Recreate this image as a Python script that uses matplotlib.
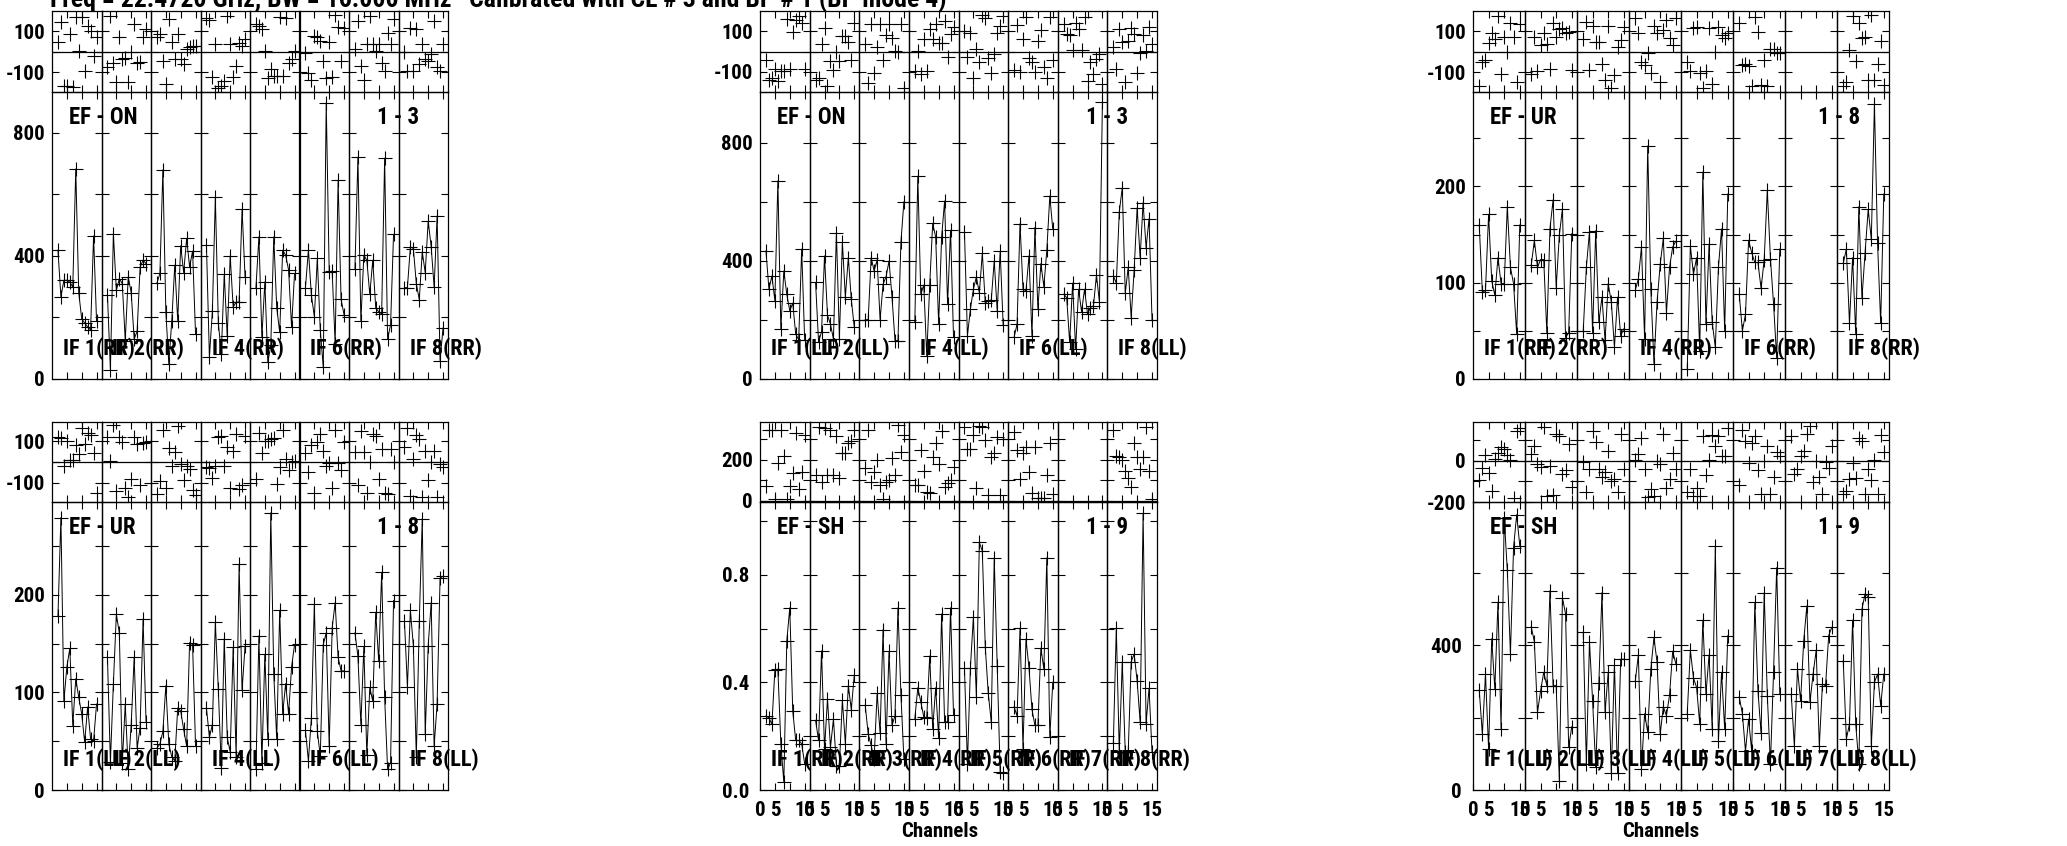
import numpy as np
import matplotlib.pyplot as plt

plt.rcParams['font.family'] = ['Liberation Sans Narrow', 'Roboto Condensed',
                               'IBM Plex Sans Condensed', 'Liberation Sans']
plt.rcParams['font.weight'] = 'bold'

W, H = 2067, 846

channels = list(range(2, 16))

# EF - ON, baseline 1-3, RR
on_rr_amp = [
    [419, 267, 321, 321, 315, 299, 683, 281, 196, 182, 169, 160, 465, 190],
    [274, 29, 473, 288, 326, 310, 125, 332, 281, 130, 155, 364, 386, 375],
    [312, 343, 680, 218, 49, 190, 370, 190, 433, 346, 457, 364, 416, 147],
    [435, 71, 221, 591, 183, 82, 341, 139, 400, 234, 250, 250, 552, 332],
    [297, 462, 136, 316, 54, 109, 462, 232, 152, 419, 403, 354, 169, 343],
    [297, 419, 272, 203, 392, 158, 38, 898, 348, 351, 114, 647, 259, 209],
    [359, 721, 187, 403, 386, 275, 386, 232, 218, 212, 718, 130, 176, 470],
    [297, 297, 430, 424, 310, 258, 413, 346, 514, 430, 299, 530, 60, 166],
]
on_rr_phase = [
    [46, 146, -166, -166, 86, -170, 167, 5, 167, -94, 127, 102, -20, 73],
    [-76, 172, -52, -146, 70, -36, -28, -146, -3, 135, -52, -49, 73, 110],
    [73, 86, -44, -155, 159, 46, -33, 86, -36, -60, 13, 21, 26, 30],
    [164, 156, -122, 37, -177, -166, -141, 176, 37, -122, -68, 41, 30, 60],
    [135, 127, 111, 2, -125, -85, -117, -117, 171, -117, 164, -52, -36, 5],
    [-8, -101, -138, 78, 70, 54, -47, -128, 46, -122, 179, 119, -47, 114],
    [13, 151, -68, -138, 37, 176, 37, 5, 37, -52, -93, 91, 37, 159],
    [-3, -93, 115, -93, 111, -60, 37, -36, -44, -11, 151, -76, -93, 37],
]

# EF - ON, baseline 1-3, LL
on_ll_amp = [
    [434, 304, 349, 265, 671, 169, 366, 287, 231, 257, 152, 133, 440, 133],
    [327, 126, 160, 417, 216, 186, 135, 496, 137, 464, 278, 411, 270, 175],
    [201, 201, 411, 366, 403, 201, 321, 346, 400, 278, 130, 130, 464, 600],
    [194, 687, 287, 318, 79, 318, 527, 481, 186, 481, 603, 254, 504, 141],
    [499, 147, 237, 304, 346, 291, 426, 257, 265, 267, 400, 231, 432, 183],
    [141, 186, 526, 304, 299, 417, 147, 513, 237, 391, 313, 436, 620, 507],
    [287, 276, 124, 325, 101, 304, 228, 304, 220, 242, 248, 352, 261, 938],
    [349, 325, 566, 648, 290, 378, 208, 370, 580, 411, 597, 445, 543, 201],
]
on_ll_phase = [
    [-42, -140, -133, -87, -145, -98, -98, 160, -87, 97, 155, 175, 142, -87],
    [-140, -132, 38, 118, -170, -45, -90, -3, -45, 75, 75, 47, -42, 142],
    [38, -158, 135, -107, 22, 138, -42, 83, 135, 68, 2, -3, 135, -182],
    [-98, 2, -112, 63, -98, 113, 63, 135, 42, 42, 152, -28, 88, 120],
    [102, -25, 93, -132, 13, -53, 180, 163, -32, -108, -12, 93, 125, 175],
    [-92, 130, -103, 63, 172, -32, -50, -100, 52, 108, -75, -133, 172, -40],
    [138, 85, 80, 8, 142, 110, 5, 172, -145, -50, -112, -37, -12, -162],
    [22, -87, 113, 47, -153, 52, 118, 88, -108, -8, 83, 2, 122, 38],
]

# EF - UR, baseline 1-8, RR (IF 7 flagged)
ur_rr_amp = [
    [160, 90, 92, 171, 102, 87, 126, 99, 99, 179, 116, 99, 47, 160],
    [118, 144, 116, 124, 124, 48, 156, 186, 95, 149, 177, 43, 48, 151],
    [50, 116, 153, 48, 154, 59, 85, 40, 99, 80, 33, 85, 45, 52],
    [92, 104, 137, 42, 242, 93, 16, 80, 119, 146, 69, 116, 137, 143],
    [10, 138, 109, 126, 29, 215, 57, 140, 59, 33, 116, 156, 50, 192],
    [88, 50, 67, 144, 131, 121, 121, 94, 124, 196, 125, 78, 22, 135],
    [],
    [120, 135, 58, 126, 47, 179, 84, 131, 176, 145, 286, 141, 58, 192],
]
ur_rr_phase = [
    [-166, -49, -41, 41, 89, 60, 174, -106, 70, -3, 141, 70, -146, 135],
    [-109, 70, -94, 33, 89, 36, -85, 141, 70, 109, 114, 93, 98, -86],
    [60, 146, -86, 125, 49, 49, -60, -135, 125, -174, -114, 24, 57, 120],
    [163, 89, -49, -65, -8, -102, 125, 89, -146, 106, 154, 65, 33, 163],
    [-49, -94, 114, 119, -101, -174, -94, 114, -154, 0, 122, 81, 65, 90],
    [141, -65, -57, -70, -167, 167, 98, -163, -41, -167, 16, 16, -5, -5],
    [],
    [-166, -146, 11, 174, -46, 141, 65, 70, -135, 179, -138, -60, 54, -163],
]

# EF - UR, baseline 1-8, LL
ur_ll_amp = [
    [178, 279, 91, 126, 145, 66, 114, 95, 78, 49, 85, 52, 50, 88],
    [136, 29, 109, 180, 161, 28, 88, 21, 67, 136, 43, 64, 175, 70],
    [43, 47, 60, 107, 47, 34, 30, 84, 81, 62, 45, 151, 149, 45],
    [84, 54, 67, 172, 103, 23, 155, 54, 39, 146, 34, 231, 102, 147],
    [22, 158, 28, 139, 52, 284, 119, 52, 184, 78, 109, 78, 126, 149],
    [61, 30, 74, 191, 60, 35, 149, 161, 45, 166, 192, 136, 122, 122],
    [161, 137, 67, 147, 36, 105, 91, 182, 132, 223, 95, 21, 28, 194],
    [173, 106, 184, 148, 34, 173, 278, 57, 148, 192, 45, 88, 217, 219],
]
ur_ll_phase = [
    [123, 118, -21, 104, 8, 8, 83, 40, 168, 88, 139, 131, 46, -152],
    [120, 3, 179, -141, 120, 99, -125, -173, -85, 120, 88, -114, 91, 99],
    [-157, -93, 158, -128, 67, -18, 51, 174, -8, -88, -21, -34, -138, -162],
    [-24, -29, -77, -18, 120, 126, -18, 72, -128, 56, 136, -133, -114, 126],
    [-85, 142, 46, 104, 104, 110, 115, -109, -24, 158, 14, -37, -2, 3],
    [46, -50, 83, -149, 96, 136, 56, -18, -5, -125, 158, -5, -40, 99],
    [51, -114, 152, 51, -149, -2, 136, 126, -82, 62, -152, -157, 62, -2],
    [72, 168, -168, 14, 131, 110, -173, 56, -90, -2, 56, -173, -8, -24],
]

# EF - SH, baseline 1-9, RR (IF 7 flagged)
sh_rr_amp = [
    [0.275, 0.268, 0.244, 0.446, 0.449, 0.172, 0.029, 0.554, 0.677, 0.293, 0.184, 0.184, 0.172, 0.097],
    [0.259, 0.184, 0.517, 0.151, 0.338, 0.159, 0.263, 0.091, 0.091, 0.334, 0.172, 0.388, 0.299, 0.427],
    [0.315, 0.209, 0.166, 0.116, 0.359, 0.213, 0.596, 0.172, 0.515, 0.240, 0.275, 0.677, 0.353, 0.116],
    [0.265, 0.380, 0.328, 0.272, 0.268, 0.498, 0.228, 0.380, 0.193, 0.654, 0.253, 0.253, 0.677, 0.278],
    [0.452, 0.097, 0.455, 0.643, 0.346, 0.920, 0.888, 0.530, 0.359, 0.253, 0.863, 0.462, 0.066, 0.062],
    [0.309, 0.275, 0.602, 0.153, 0.561, 0.455, 0.300, 0.240, 0.240, 0.527, 0.450, 0.863, 0.197, 0.400],
    [],
    [0.174, 0.602, 0.141, 0.477, 0.141, 0.141, 0.477, 0.505, 0.405, 0.253, 1.028, 0.247, 0.378, 0.141],
]
sh_rr_phase = [
    [72, 344, 344, 11, 184, 344, 220, 11, 72, 134, 331, 56, 143, 323],
    [126, 361, 93, 356, 126, 344, 126, 318, 110, 236, 236, 282, 290, 347],
    [159, 347, 93, 143, 200, 77, 11, 93, 102, 208, 126, 372, 241, 323],
    [77, 77, 249, 148, 44, 39, 216, 282, 180, 339, 69, 89, 102, 167],
    [361, 252, 252, 323, 61, 364, 361, 298, 28, 216, 236, 311, 28, 301],
    [334, 249, 105, 236, 262, 143, 39, 264, 16, 16, 16, 126, 285, 33],
    [],
    [347, 220, 216, 200, 146, 110, 69, 282, 216, 154, 216, 361, 148, 11],
]

# EF - SH, baseline 1-9, LL
sh_ll_amp = [
    [276, 154, 320, 113, 418, 279, 518, 168, 752, 607, 375, 669, 760, 674],
    [451, 409, 214, 274, 325, 288, 550, 288, 288, 26, 531, 486, 118, 175],
    [435, 72, 409, 246, 63, 294, 545, 214, 325, 46, 346, 46, 361, 361],
    [300, 373, 58, 211, 159, 334, 421, 352, 154, 230, 205, 262, 383, 349],
    [211, 386, 309, 283, 182, 469, 265, 373, 168, 674, 136, 325, 168, 426],
    [257, 211, 108, 196, 107, 518, 274, 156, 545, 260, 72, 325, 614, 265],
    [265, 122, 334, 246, 412, 508, 242, 320, 386, 122, 292, 288, 426, 449],
    [357, 141, 182, 469, 182, 72, 499, 542, 533, 122, 297, 320, 233, 320],
]
sh_ll_phase = [
    [-91, -32, 27, -61, -144, 8, 37, 69, 59, 27, 5, -181, 144, 160],
    [32, 75, -16, -27, 165, -171, -24, -168, 133, 123, -64, -43, 85, -128],
    [-5, -149, -40, 144, 91, -40, -80, -56, 48, -96, -88, -152, 133, -37],
    [5, 32, 112, -40, -176, -136, -171, 0, -16, 133, -133, -88, 40, -37],
    [-152, -40, -171, -133, -171, 123, -69, 5, 125, 75, 120, 24, 24, 160],
    [-117, 149, 96, -8, 88, 123, -43, -160, 0, 72, -160, -80, 43, 24],
    [123, -64, -40, 24, 48, 133, 171, -101, 0, -80, -160, -5, -32, 72],
    [-160, -144, -88, -11, -85, 112, 96, -160, -40, -91, 5, -160, 128, 43],
]

title = "Freq = 22.4720 GHz, BW = 16.000 MHz   Calibrated with CL # 3 and BP # 1 (BP mode 4)"

panels = [
    dict(col=0, row=0, amp=on_rr_amp, ph=on_rr_phase, pol='RR', src='EF - ON', bl='1 - 3',
         alim=(0, 933), aticks=[0, 200, 400, 600, 800], alabels=['0', '', '400', '', '800'],
         plim=(-195, 198), pticks=[-100, 0, 100], plabels=['-100', '', '100'], ifs=[1, 2, 4, 6, 8]),
    dict(col=1, row=0, amp=on_ll_amp, ph=on_ll_phase, pol='LL', src='EF - ON', bl='1 - 3',
         alim=(0, 972), aticks=[0, 200, 400, 600, 800], alabels=['0', '', '400', '', '800'],
         plim=(-200, 200), pticks=[-100, 0, 100], plabels=['-100', '', '100'], ifs=[1, 2, 4, 6, 8]),
    dict(col=2, row=0, amp=ur_rr_amp, ph=ur_rr_phase, pol='RR', src='EF - UR', bl='1 - 8',
         alim=(0, 298), aticks=[0, 50, 100, 150, 200, 250], alabels=['0', '', '100', '', '200', ''],
         plim=(-195, 198), pticks=[-100, 0, 100], plabels=['-100', '', '100'], ifs=[1, 2, 4, 6, 8]),
    dict(col=0, row=1, amp=ur_ll_amp, ph=ur_ll_phase, pol='LL', src='EF - UR', bl='1 - 8',
         alim=(0, 295), aticks=[0, 50, 100, 150, 200, 250], alabels=['0', '', '100', '', '200', ''],
         plim=(-195, 195), pticks=[-100, 0, 100], plabels=['-100', '', '100'], ifs=[1, 2, 4, 6, 8]),
    dict(col=1, row=1, amp=sh_rr_amp, ph=sh_rr_phase, pol='RR', src='EF - SH', bl='1 - 9',
         alim=(0, 1.07), aticks=[0, 0.2, 0.4, 0.6, 0.8, 1.0], alabels=['0.0', '', '0.4', '', '0.8', ''],
         plim=(-5, 385), pticks=[0, 100, 200, 300], plabels=['0', '', '200', ''], ifs=[1, 2, 3, 4, 5, 6, 7, 8]),
    dict(col=2, row=1, amp=sh_ll_amp, ph=sh_ll_phase, pol='LL', src='EF - SH', bl='1 - 9',
         alim=(0, 795), aticks=[0, 200, 400, 600], alabels=['0', '', '400', ''],
         plim=(-200, 190), pticks=[-200, -100, 0, 100], plabels=['-200', '', '0', ''], ifs=[1, 2, 3, 4, 5, 6, 7, 8]),
]

col_x = [(52, 448), (760, 1157), (1473, 1889)]
row_y = [((11, 92), (92, 379)), ((422, 502), (502, 790))]


def box(x0, y0, x1, y1):
    return [x0 / W, 1 - y1 / H, (x1 - x0) / W, (y1 - y0) / H]


def style(ax, ylim, yticks):
    ax.set_facecolor('none')
    ax.set_xlim(0, 16.67)
    ax.set_ylim(ylim)
    ax.set_xticks([5, 10, 15])
    ax.set_yticks(yticks)
    ax.tick_params(direction='in', top=True, right=True, length=5, width=0.8,
                   labelbottom=False, labelleft=False, labelsize=15, pad=5)
    for s in ax.spines.values():
        s.set_linewidth(0.9)


fig = plt.figure(figsize=(W / 100, H / 100), dpi=100)

for p in panels:
    x0, x1 = col_x[p['col']]
    (py0, py1), (ay0, ay1) = row_y[p['row']]
    w = (x1 - x0) / 8
    for k in range(8):
        sx0, sx1 = x0 + k * w, x0 + (k + 1) * w
        axp = fig.add_axes(box(sx0, py0, sx1, py1))
        axa = fig.add_axes(box(sx0, ay0, sx1, ay1))
        style(axp, p['plim'], p['pticks'])
        style(axa, p['alim'], p['aticks'])
        axp.axhline(0, color='black', lw=0.9)
        if len(p['amp'][k]) > 0:
            axa.plot(channels, p['amp'][k], color='black', lw=0.7,
                     marker='+', ms=10, mew=0.8)
            axp.plot(channels, p['ph'][k], ls='none', color='black',
                     marker='+', ms=10, mew=0.8)
        if k == 0:
            axp.set_yticklabels(p['plabels'])
            axa.set_yticklabels(p['alabels'])
            axp.tick_params(labelleft=True)
            axa.tick_params(labelleft=True)
        if p['row'] == 1 and p['col'] > 0:
            axa.set_xticks([0, 5, 10, 15])
            axa.set_xticklabels(['0', '5', '', '15'])
            axa.tick_params(labelbottom=True, pad=8)
        if (k + 1) in p['ifs']:
            fig.text((sx0 + 11) / W, 1 - (ay1 - 30) / H, f"IF {k + 1}({p['pol']})",
                     fontsize=16, fontweight='bold', ha='left', va='center')
    fig.text((x0 + 17) / W, 1 - (ay0 + 26) / H, p['src'],
             fontsize=16.5, fontweight='bold', ha='left', va='center')
    fig.text((x1 - 29) / W, 1 - (ay0 + 26) / H, p['bl'],
             fontsize=16.5, fontweight='bold', ha='right', va='center')

fig.text(940 / W, 1 - 831 / H, 'Channels', fontsize=15, fontweight='bold', ha='center', va='center')
fig.text(1661 / W, 1 - 831 / H, 'Channels', fontsize=15, fontweight='bold', ha='center', va='center')

fig.text(50 / W, 1 - 7 / H, title, fontsize=18.5, fontweight='bold', ha='left', va='baseline')

fig.savefig('out.png', dpi=100)
